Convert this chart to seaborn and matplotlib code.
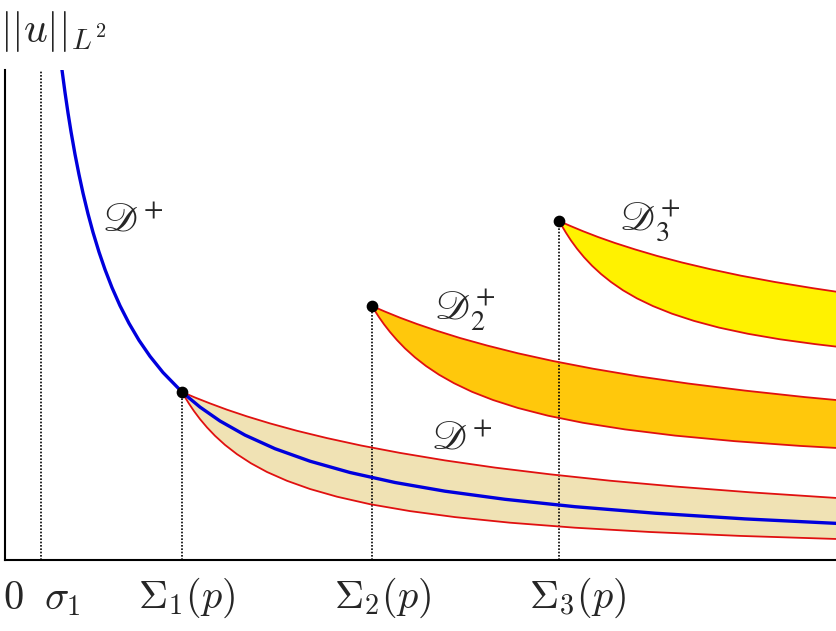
import numpy as np
import pandas as pd
import matplotlib
matplotlib.use("Agg")
import matplotlib.pyplot as plt
import seaborn as sns

sns.set_style("white")
plt.rcParams["mathtext.fontset"] = "cm"

# ---- data ----
blue_x = [57, 60, 63, 66, 70, 74, 78, 83, 88, 94, 100, 107, 115, 124, 134, 145, 158, 177, 195, 215,
          240, 270, 305, 345, 390, 440, 500, 570, 650, 740, 832]
blue_y = [490.0, 467.6, 447.1, 428.4, 405.7, 385.4, 366.9, 346.2, 327.7, 308.0, 290.5, 272.4, 254.3,
          236.7, 219.7, 203.7, 187.5, 168.0, 152.9, 139.0, 124.9, 111.3, 98.8, 87.5, 77.5, 68.8,
          60.7, 53.3, 46.8, 41.1, 36.6]

band1_up_x = [177, 190, 205, 222, 242, 265, 292, 322, 356, 395, 440, 490, 545, 605, 670, 745, 832]
band1_up_y = [168.0, 162.5, 156.6, 150.3, 143.6, 136.6, 129.2, 121.9, 114.5, 107.1, 99.6, 92.4,
              85.7, 79.3, 73.5, 67.7, 62.0]
band1_lo_x = [177, 180, 184, 189, 195, 202, 210, 220, 232, 246, 262, 282, 305, 332, 365, 405, 450,
              505, 570, 645, 735, 832]
band1_lo_y = [168.0, 162.8, 156.3, 148.9, 140.9, 132.6, 124.2, 115.1, 105.8, 96.7, 88.0, 79.2, 71.0,
              63.3, 55.8, 48.9, 42.9, 37.3, 32.3, 28.0, 24.1, 21.0]

band2_up_x = [367, 380, 395, 412, 432, 455, 482, 513, 548, 588, 633, 683, 740, 800, 832]
band2_up_y = [254.0, 248.4, 242.3, 236.0, 229.2, 222.0, 214.5, 206.7, 199.0, 191.3, 183.7, 176.5,
              169.4, 162.9, 159.9]
band2_lo_x = [367, 370, 374, 379, 385, 392, 400, 410, 421, 434, 449, 467, 488, 513, 543, 578, 620,
              670, 730, 795, 832]
band2_lo_y = [254.0, 249.0, 242.8, 235.7, 228.0, 219.9, 211.6, 202.6, 194.0, 185.3, 176.8, 168.2,
              160.0, 152.0, 144.3, 137.2, 130.6, 124.4, 118.8, 114.1, 112.0]

band3_up_x = [554, 565, 578, 593, 610, 630, 652, 677, 705, 736, 770, 808, 832]
band3_up_y = [339.0, 334.2, 328.8, 323.0, 317.0, 310.6, 304.1, 297.5, 290.9, 284.3, 278.0, 271.8,
              268.2]
band3_lo_x = [554, 557, 561, 566, 572, 579, 587, 596, 606, 618, 632, 648, 667, 689, 714, 743, 775,
              810, 832]
band3_lo_y = [339.0, 333.9, 327.2, 319.5, 311.3, 302.8, 294.3, 286.0, 278.0, 269.7, 261.6, 253.9,
              246.3, 239.1, 232.4, 226.2, 220.7, 215.9, 213.3]

sigma1_x = 36
branch_x = [177, 367, 554]
branch_y = [168.0, 254.0, 339.0]

tick_labels = [r"$0$", r"$\sigma_1$", r"$\Sigma_1(p)$", r"$\Sigma_2(p)$", r"$\Sigma_3(p)$"]
region_labels = [r"$\mathscr{D}^{+}$", r"$\mathscr{D}^{+}_{2}$", r"$\mathscr{D}^{+}_{3}$", r"$\mathscr{D}^{+}$"]

# ---- figure ----
W, H = 837, 631
fig = plt.figure(figsize=(W / 100, H / 100), dpi=100)
ax = fig.add_axes([5 / W, 71 / H, 832 / W, 490 / H])
ax.set_xlim(0, 832)
ax.set_ylim(0, 490)

red = "#e01010"
bands = [
    (band1_up_x, band1_up_y, band1_lo_x, band1_lo_y, "#f0e2b4"),
    (band2_up_x, band2_up_y, band2_lo_x, band2_lo_y, "#ffc80c"),
    (band3_up_x, band3_up_y, band3_lo_x, band3_lo_y, "#fff200"),
]
for ux, uy, lx, ly, col in bands:
    px = list(ux) + list(lx)[::-1]
    py = list(uy) + list(ly)[::-1]
    ax.fill(px, py, color=col, lw=0, zorder=1)
    for xx, yy in ((ux, uy), (lx, ly)):
        sns.lineplot(x=xx, y=yy, ax=ax, color=red, lw=1.3, sort=False, estimator=None,
                     zorder=3, solid_joinstyle="round")

sns.lineplot(x=blue_x, y=blue_y, ax=ax, color="#0000dd", lw=2.4, sort=False, estimator=None,
             zorder=4, solid_joinstyle="round")

# dotted verticals
ax.vlines([sigma1_x], 0, 490, colors="black", linestyles=(0, (1, 1)), lw=1.2, zorder=2)
ax.vlines(branch_x, 0, branch_y, colors="black", linestyles=(0, (1, 1)), lw=1.2, zorder=2)
ax.scatter(branch_x, branch_y, s=55, color="black", zorder=6)

# spines
for s in ["top", "right"]:
    ax.spines[s].set_visible(False)
for s in ["left", "bottom"]:
    ax.spines[s].set_color("black")
    ax.spines[s].set_linewidth(1.5)
ax.set_xticks([])
ax.set_yticks([])

# x labels
label_x = [8, 57, 182, 378, 573]
for xx, t in zip(label_x, tick_labels):
    ax.text(xx, -38, t, ha="center", va="center", fontsize=29, clip_on=False)

# region labels
pos = [(128, 340), (460, 250), (645, 340), (457, 121)]
for (xx, yy), t in zip(pos, region_labels):
    ax.text(xx, yy, t, ha="center", va="center", fontsize=29, math_fontfamily="stix")

# y label
fig.text(0 / W, 1 - 32 / H, r"$||u||_{L^2}$", ha="left", va="center", fontsize=30)

fig.savefig("out.png", dpi=100, facecolor="white")
